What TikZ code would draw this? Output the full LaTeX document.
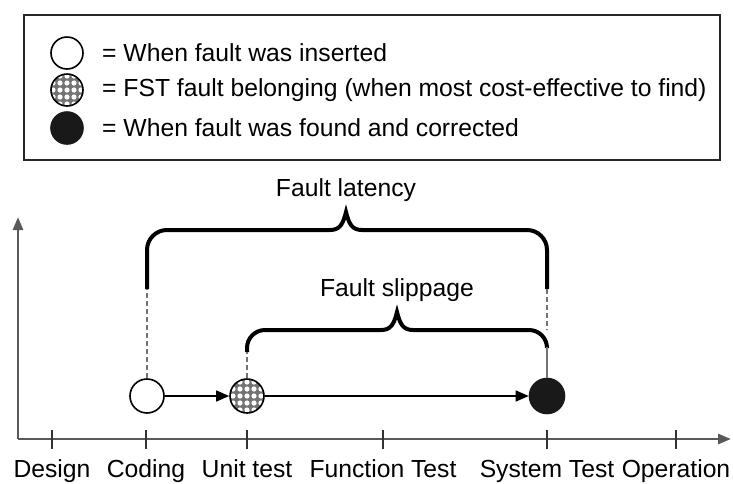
\documentclass[tikz,border=0pt]{standalone}
\usepackage{fontspec}
\setmainfont{Liberation Sans}
\usetikzlibrary{arrows.meta}
\tikzset{
  axisline/.style={draw=black!65, line width=2.6pt, -{Triangle[length=13pt,width=10pt]}},
  tickline/.style={draw=black!80, line width=1.3pt},
  flow/.style={draw=black, line width=1.4pt, -{Triangle[length=13pt,width=11pt]}},
  brace/.style={draw=black, line width=4pt},
  dashedline/.style={draw=black!55, line width=1.8pt, dash pattern=on 5pt off 3pt},
  thinline/.style={draw=black!55, line width=1.6pt},
  opendot/.style={circle, draw=black, line width=1.6pt, fill=white, minimum size=34pt, inner sep=0pt},
  fulldot/.style={circle, draw=black!90, line width=1.6pt, fill=black!90, minimum size=35pt, inner sep=0pt},
  meshdot/.style={circle, draw=black, line width=1.6pt, fill=black!55, minimum size=34pt, inner sep=0pt,
    path picture={
      \foreach \i in {-3,...,3} {
        \foreach \j in {-3,...,3} {
          \fill[white] ([shift={(\i*7pt,\j*7pt)}]path picture bounding box.center) circle (2.6pt);
        }
      }
    }},
  lbl/.style={font=\fontsize{24.7}{30}\selectfont, inner sep=0pt}
}

\begin{document}
\begin{tikzpicture}[x=1pt, y=-1pt]
  \useasboundingbox (0,0) rectangle (733,483);

  % legend
  \draw[black!85, line width=2pt] (24,15) rectangle (720,160);
  \node[opendot, minimum size=32pt] (key1) at (67,53) {};
  \node[meshdot, minimum size=32pt] (key2) at (67,90) {};
  \node[fulldot, minimum size=32pt] (key3) at (67,128) {};
  \node[lbl, anchor=west] (txt1) at (102,53) {= When fault was inserted};
  \node[lbl, anchor=west] (txt2) at (102,90) {= FST fault belonging (when most cost-effective to find)};
  \node[lbl, anchor=west] (txt3) at (102,128) {= When fault was found and corrected};

  % axes
  \coordinate (origin) at (18,439);
  \coordinate (ytop) at (18,217);
  \coordinate (xend) at (731,439);
  \draw[axisline] (origin) -- (ytop);
  \draw[axisline] (origin) -- (xend);
  \foreach \x/\name/\txt in {52/design/Design, 146/coding/Coding, 247/unit/Unit test,
      383/func/Function Test, 547/sys/System Test, 676/oper/Operation} {
    \draw[tickline] (\x,430) -- (\x,449);
    \node[lbl, anchor=base] (\name) at (\x,477) {\txt};
  }

  % fault events
  \node[opendot] (ins) at (147,396) {};
  \node[meshdot] (fst) at (247,396) {};
  \node[fulldot] (fnd) at (547,396) {};
  \draw[flow] (ins) -- (fst);
  \draw[flow] (fst) -- (fnd);

  % fault latency
  \coordinate (lat-l) at (147,289);
  \coordinate (lat-r) at (547,289);
  \draw[brace] (lat-l) [rounded corners=20pt] -- (147,230) -- (250,230) [sharp corners] -- (330,230)
    .. controls (340,230) and (343,224) .. (346,212)
    .. controls (349,224) and (352,230) .. (362,230) [rounded corners=20pt] -- (547,230) -- (lat-r);
  \node[lbl] (latency) at (346,190) {Fault latency};
  \draw[dashedline] (ins) -- (lat-l);

  % fault slippage
  \coordinate (slp-l) at (247,352);
  \coordinate (slp-r) at (547,347);
  \draw[brace] (slp-l) [rounded corners=18pt] -- (247,330) -- (300,330) [sharp corners] -- (381,330)
    .. controls (391,330) and (394,324) .. (397,312)
    .. controls (400,324) and (403,330) .. (413,330) [rounded corners=18pt] -- (547,330) -- (slp-r);
  \node[lbl] (slippage) at (397,290) {Fault slippage};
  \draw[dashedline] (fst) -- (slp-l);
  \draw[dashedline] (lat-r) -- (547,330);
  \draw[thinline] (slp-r) -- (fnd);
\end{tikzpicture}
\end{document}
